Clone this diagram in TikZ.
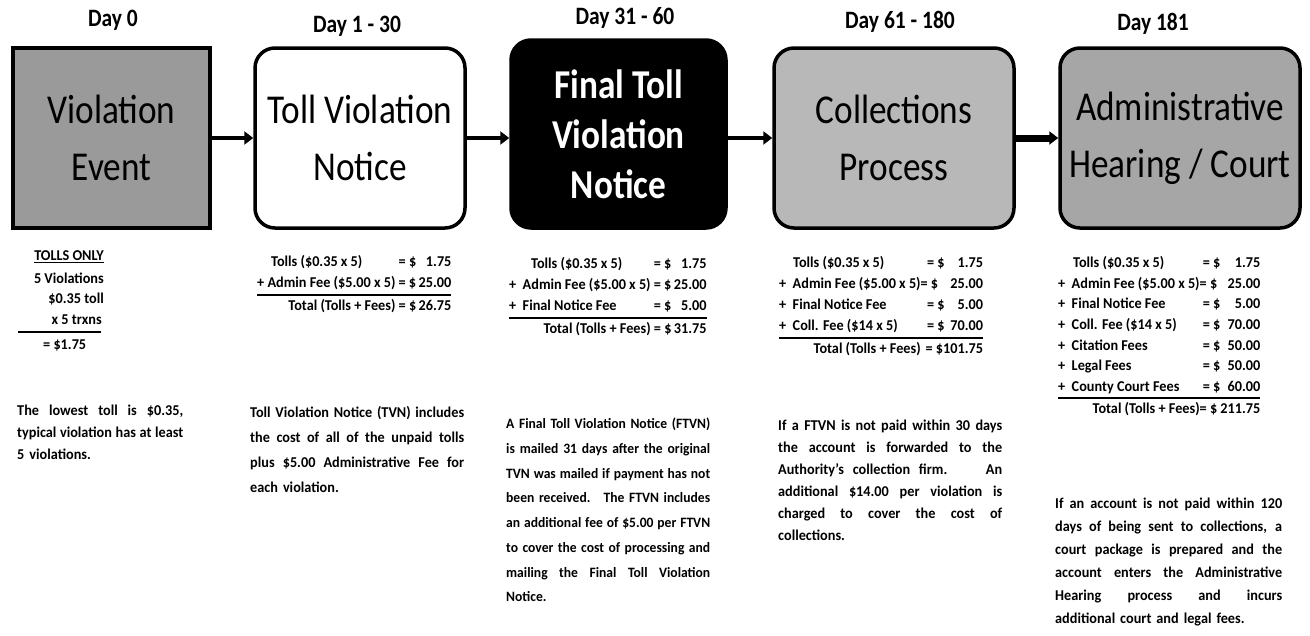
\documentclass[tikz,border=0pt]{standalone}
\usepackage{fontspec}
\setmainfont{Carlito}
\newfontfamily\boxfam[FakeStretch=0.86]{Carlito}
\newfontfamily\smallfam[FakeStretch=0.95]{Carlito}
\usetikzlibrary{arrows.meta}
\definecolor{gOne}{HTML}{9A9A9A}
\definecolor{gFour}{HTML}{B8B8B8}
\definecolor{gFive}{HTML}{A6A6A6}
\newcommand\jl[2]{\makebox[#1][s]{\spaceskip=0pt\relax\xspaceskip=0pt\relax #2}\\}
\tikzset{
  stage/.style={draw=black, line width=3.5pt, rounded corners=20pt, minimum height=180pt,
    align=center, inner sep=0pt, font=\boxfam\fontsize{41}{57}\selectfont},
  daylbl/.style={font=\boxfam\bfseries\fontsize{25}{28}\selectfont, inner sep=0pt},
  flow/.style={line width=4pt, -{Triangle[length=9pt,width=13pt]}},
  small/.style={inner sep=0pt, align=left, font=\smallfam\bfseries\fontsize{15}{#1}\selectfont},
  tbl/.style={inner sep=0pt, font=\smallfam\bfseries\fontsize{15}{#1}\selectfont}
}
\begin{document}
\begin{tikzpicture}[x=1pt,y=-1pt]
\useasboundingbox (0,0) rectangle (1310,635);
\fill[white] (0,0) rectangle (1310,635);

% headings
\node[daylbl] (d1) at (113,20) {Day 0};
\node[daylbl] (d2) at (357,26) {Day 1 - 30};
\node[daylbl] (d3) at (625,18) {Day 31 - 60};
\node[daylbl] (d4) at (900,22) {Day 61 - 180};
\node[daylbl] (d5) at (1153,24) {Day 181};

% stages
\node[stage, rounded corners=0pt, fill=gOne, minimum width=197pt, line width=4.5pt] (b1) at (111.5,138) {Violation\\Event};
\node[stage, fill=white, minimum width=210pt] (b2) at (360,138) {Toll Violation\\Notice};
\node[stage, fill=black, text=white, minimum width=215pt, minimum height=188pt, font=\boxfam\bfseries\fontsize{41}{50}\selectfont] (b3) at (618.5,134) {Final Toll\\Violation\\Notice};
\node[stage, fill=gFour, minimum width=240pt] (b4) at (894,138) {Collections\\Process};
\node[stage, fill=gFive, minimum width=240pt] (b5) at (1180,138) {Administrative\\Hearing / Court};

\coordinate (a3s) at (b3.east |- b2.east);
\coordinate (a2e) at (b3.west |- b2.east);
\draw[flow] (b1) -- (b2);
\draw[flow] (b2.east) -- (a2e);
\draw[flow] (a3s) -- (b4.west);
\draw[flow, line width=7pt] (b4) -- (b5);

% column 1 table
\node[tbl=18, anchor=east] (c1a) at (104,257) {\underline{TOLLS ONLY}};
\node[tbl=18, anchor=east] (c1b) at (104,278) {5 Violations};
\node[tbl=18, anchor=east] (c1c) at (104,299) {\$0.35 toll};
\node[tbl=18, anchor=east] (c1d) at (102,320) {x 5 trxns};
\coordinate (r1a) at (18,332);
\coordinate (r1b) at (101,332);
\draw[line width=1.8pt] (r1a) -- (r1b);
\node[tbl=18, anchor=west] (c1e) at (43,345) {= \$1.75};

% column 2 table
\node[tbl=21, anchor=north west] (t2) at (257,252) {\begin{tabular}{@{}l@{}l@{}r@{}}
\hspace{14pt}Tolls (\$0.35 x 5) & \ = \$\, & 1.75\\
+ Admin Fee (\$5.00 x 5) & \ = \$ & 25.00\\ \noalign{\hrule height 1.6pt}
\multicolumn{1}{@{}r@{}}{Total (Tolls + Fees)} & \ = \$ & 26.75
\end{tabular}};

% column 3 table
\node[tbl=21, anchor=north west] (t3) at (509,254) {\begin{tabular}{@{}l@{}l@{}r@{}}
\hspace{22pt}Tolls (\$0.35 x 5) & \ = \$\, & 1.75\\
+ \ Admin Fee (\$5.00 x 5) & \ = \$ & 25.00\\
+ \ Final Notice Fee & \ = \$\, & 5.00\\ \noalign{\hrule height 1.6pt}
\multicolumn{1}{@{}r@{}}{Total (Tolls + Fees)} & \ = \$ & 31.75
\end{tabular}};

% column 4 table
\node[tbl=21, anchor=north west] (t4) at (779,253) {\begin{tabular}{@{}l@{}l@{}r@{}}
\hspace{14pt}Tolls (\$0.35 x 5) & \ \ = \$\ \, & 1.75\\
+ \ Admin Fee (\$5.00 x 5) & = \$\,\, & 25.00\\
+ \ Final Notice Fee & \ \ = \$\,\, & 5.00\\
+ \ Coll. Fee (\$14 x 5) & \ \ = \$\,\, & 70.00\\ \noalign{\hrule height 1.6pt}
\multicolumn{1}{@{}r@{}}{Total (Tolls + Fees)} & \multicolumn{2}{@{}r@{}}{= \$101.75}
\end{tabular}};

% column 5 table
\node[tbl=20.6, anchor=north west] (t5) at (1058,253) {\begin{tabular}{@{}l@{}l@{}r@{}}
\hspace{15pt}Tolls (\$0.35 x 5) & \ = \$\, & 1.75\\
+ \ Admin Fee (\$5.00 x 5) & = \$\, & 25.00\\
+ \ Final Notice Fee & \ = \$\, & 5.00\\
+ \ Coll. Fee (\$14 x 5) & \ = \$\, & 70.00\\
+ \ Citation Fees & \ = \$\, & 50.00\\
+ \ Legal Fees & \ = \$\, & 50.00\\
+ \ County Court Fees & \ = \$\, & 60.00\\ \noalign{\hrule height 1.6pt}
\multicolumn{1}{@{}r@{}}{Total (Tolls + Fees)} & \multicolumn{2}{@{}r@{}}{= \$ 211.75}
\end{tabular}};

% descriptions
\node[small=22, anchor=north west, text width=166pt] (p1) at (17,405) {%
\jl{166pt}{The lowest toll is \$0.35,}
\jl{166pt}{typical violation has at least}
5 violations.};

\node[small=25, anchor=north west, text width=214pt] (p2) at (250,406) {%
\jl{214pt}{Toll Violation Notice (TVN) includes}
\jl{214pt}{the cost of all of the unpaid tolls}
\jl{214pt}{plus \$5.00 Administrative Fee for}
each violation.};

\node[small=24.7, anchor=north west, text width=204pt, font=\smallfam\bfseries\fontsize{14.3}{24.7}\selectfont] (p3) at (506,418) {%
\jl{204pt}{A Final Toll Violation Notice (FTVN)}
\jl{204pt}{is mailed 31 days after the original}
\jl{204pt}{TVN was mailed if payment has not}
\jl{204pt}{been received. \ The FTVN includes}
\jl{204pt}{an additional fee of \$5.00 per FTVN}
\jl{204pt}{to cover the cost of processing and}
\jl{204pt}{mailing the Final Toll Violation}
Notice.};

\node[small=22, anchor=north west, text width=224pt] (p4) at (778,420) {%
\jl{224pt}{If a FTVN is not paid within 30 days}
\jl{224pt}{the account is forwarded to the}
\jl{224pt}{Authority’s collection firm. \ \ An}
\jl{224pt}{additional \$14.00 per violation is}
\jl{224pt}{charged to cover the cost of}
collections.};

\node[small=23, anchor=north west, text width=227pt] (p5) at (1055,498) {%
\jl{227pt}{If an account is not paid within 120}
\jl{227pt}{days of being sent to collections, a}
\jl{227pt}{court package is prepared and the}
\jl{227pt}{account enters the Administrative}
\jl{227pt}{Hearing process and incurs}
additional court and legal fees.};
\end{tikzpicture}
\end{document}
